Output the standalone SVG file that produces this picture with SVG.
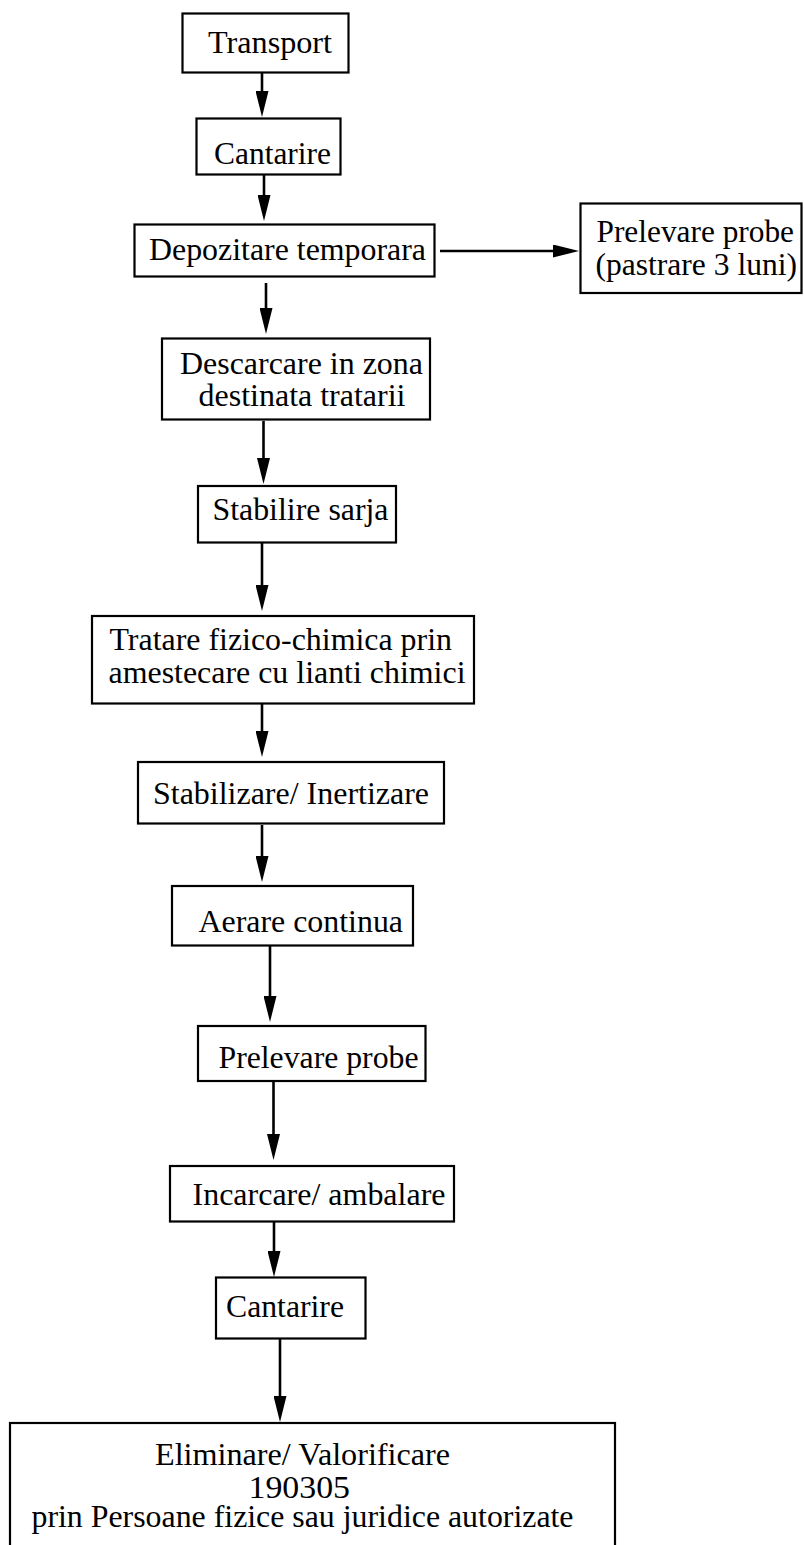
<svg xmlns="http://www.w3.org/2000/svg" width="804" height="1545" viewBox="0 0 804 1545">
<style>
rect.box{fill:#fff;stroke:#000;stroke-width:2.2}
.conn line{stroke:#000;stroke-width:2.6;fill:none}
.t{font-family:'Liberation Serif','Times New Roman',serif;font-size:32px;fill:#000}
</style>
<defs>
<marker id="arr" viewBox="0 0 26 13" refX="16" refY="6.5" markerWidth="26" markerHeight="13" markerUnits="userSpaceOnUse" orient="auto">
<path d="M0,0 L26,6.5 L0,13 Z" fill="#000"/>
</marker>
</defs>
<rect width="804" height="1545" fill="#fff"/>
<g class="conn">
<line x1="262" y1="73" x2="262" y2="107" marker-end="url(#arr)"/>
<line x1="264" y1="175" x2="264" y2="211" marker-end="url(#arr)"/>
<line x1="440" y1="251" x2="569" y2="251" marker-end="url(#arr)"/>
<line x1="266" y1="283" x2="266" y2="324" marker-end="url(#arr)"/>
<line x1="263.5" y1="421" x2="263.5" y2="474" marker-end="url(#arr)"/>
<line x1="262" y1="543" x2="262" y2="601" marker-end="url(#arr)"/>
<line x1="262" y1="704" x2="262" y2="747" marker-end="url(#arr)"/>
<line x1="262" y1="825" x2="262" y2="872" marker-end="url(#arr)"/>
<line x1="270" y1="946" x2="270" y2="1012" marker-end="url(#arr)"/>
<line x1="273.5" y1="1081" x2="273.5" y2="1150" marker-end="url(#arr)"/>
<line x1="274" y1="1222" x2="274" y2="1267" marker-end="url(#arr)"/>
<line x1="280" y1="1339" x2="280" y2="1412" marker-end="url(#arr)"/>
</g>
<g id="n-transport"><rect class="box" x="182.5" y="13.5" width="166" height="59"/><text class="t" x="208" y="53.3" textLength="124" lengthAdjust="spacingAndGlyphs">Transport</text></g>
<g id="n-cantarire1"><rect class="box" x="196.5" y="118.5" width="144" height="56"/><text class="t" x="214" y="164" textLength="117" lengthAdjust="spacingAndGlyphs">Cantarire</text></g>
<g id="n-depozitare"><rect class="box" x="134.5" y="224.5" width="300" height="52"/><text class="t" x="149" y="259.5" textLength="277" lengthAdjust="spacingAndGlyphs">Depozitare temporara</text></g>
<g id="n-prelevare-3luni"><rect class="box" x="580.5" y="203.5" width="221" height="89.5"/><text class="t" x="596.5" y="241.5" textLength="197.5" lengthAdjust="spacingAndGlyphs">Prelevare probe</text><text class="t" x="595.5" y="274.5" textLength="201.5" lengthAdjust="spacingAndGlyphs">(pastrare 3 luni)</text></g>
<g id="n-descarcare"><rect class="box" x="162" y="338.5" width="268" height="81"/><text class="t" x="180" y="373.5" textLength="243" lengthAdjust="spacingAndGlyphs">Descarcare in zona</text><text class="t" x="198.5" y="406" textLength="207" lengthAdjust="spacingAndGlyphs">destinata tratarii</text></g>
<g id="n-sarja"><rect class="box" x="198" y="486" width="198" height="56.5"/><text class="t" x="212.5" y="519.5" textLength="176" lengthAdjust="spacingAndGlyphs">Stabilire sarja</text></g>
<g id="n-tratare"><rect class="box" x="92" y="616" width="382" height="87.5"/><text class="t" x="109.5" y="650" textLength="342.5" lengthAdjust="spacingAndGlyphs">Tratare fizico-chimica prin</text><text class="t" x="108.5" y="683" textLength="357" lengthAdjust="spacingAndGlyphs">amestecare cu lianti chimici</text></g>
<g id="n-stabilizare"><rect class="box" x="138" y="762" width="306" height="61.5"/><text class="t" x="153" y="804" textLength="276" lengthAdjust="spacingAndGlyphs">Stabilizare/ Inertizare</text></g>
<g id="n-aerare"><rect class="box" x="172" y="886" width="241" height="59.5"/><text class="t" x="198.5" y="931.5" textLength="204.5" lengthAdjust="spacingAndGlyphs">Aerare continua</text></g>
<g id="n-prelevare"><rect class="box" x="198" y="1026" width="227.5" height="55"/><text class="t" x="218.5" y="1067.5" textLength="200" lengthAdjust="spacingAndGlyphs">Prelevare probe</text></g>
<g id="n-incarcare"><rect class="box" x="170" y="1166" width="284" height="55.5"/><text class="t" x="192.5" y="1205" textLength="253" lengthAdjust="spacingAndGlyphs">Incarcare/ ambalare</text></g>
<g id="n-cantarire2"><rect class="box" x="216" y="1277.5" width="149.5" height="61"/><text class="t" x="226" y="1317" textLength="118" lengthAdjust="spacingAndGlyphs">Cantarire</text></g>
<g id="n-eliminare"><rect class="box" x="10" y="1423" width="605" height="140"/><text class="t" x="155" y="1465" textLength="295" lengthAdjust="spacingAndGlyphs">Eliminare/ Valorificare</text><text class="t" x="248.5" y="1497.5" textLength="101.5" lengthAdjust="spacingAndGlyphs">190305</text><text class="t" x="31.5" y="1527" textLength="542" lengthAdjust="spacingAndGlyphs">prin Persoane fizice sau juridice autorizate</text></g>
</svg>
